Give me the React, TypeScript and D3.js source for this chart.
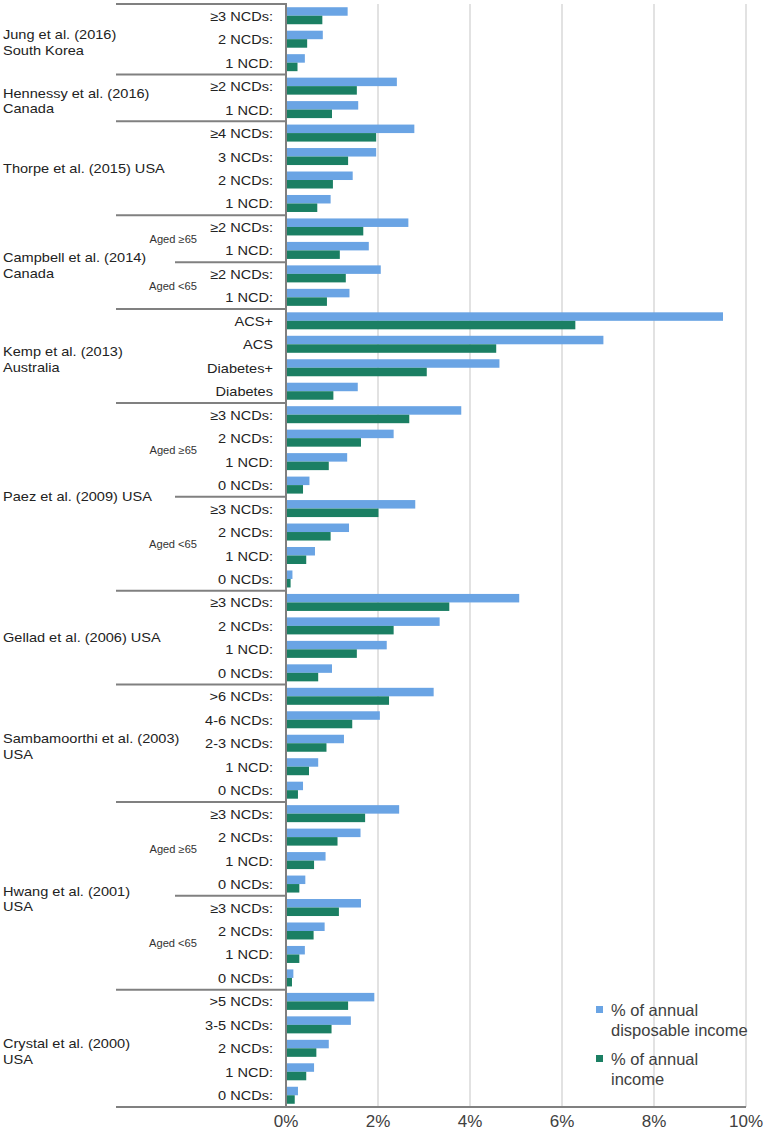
import * as d3 from "d3";

// row labels, top to bottom
const categories = [
  "≥3 NCDs:", "2 NCDs:", "1 NCD:",
  "≥2 NCDs:", "1 NCD:",
  "≥4 NCDs:", "3 NCDs:", "2 NCDs:", "1 NCD:",
  "≥2 NCDs:", "1 NCD:", "≥2 NCDs:", "1 NCD:",
  "ACS+", "ACS", "Diabetes+", "Diabetes",
  "≥3 NCDs:", "2 NCDs:", "1 NCD:", "0 NCDs:", "≥3 NCDs:", "2 NCDs:", "1 NCD:", "0 NCDs:",
  "≥3 NCDs:", "2 NCDs:", "1 NCD:", "0 NCDs:",
  ">6 NCDs:", "4-6 NCDs:", "2-3 NCDs:", "1 NCD:", "0 NCDs:",
  "≥3 NCDs:", "2 NCDs:", "1 NCD:", "0 NCDs:", "≥3 NCDs:", "2 NCDs:", "1 NCD:", "0 NCDs:",
  ">5 NCDs:", "3-5 NCDs:", "2 NCDs:", "1 NCD:", "0 NCDs:",
];

// % of annual disposable income
const disposable = [
  1.34, 0.8, 0.41,
  2.41, 1.57,
  2.79, 1.96, 1.45, 0.97,
  2.66, 1.8, 2.06, 1.38,
  9.5, 6.9, 4.64, 1.56,
  3.81, 2.34, 1.33, 0.51, 2.81, 1.37, 0.63, 0.14,
  5.07, 3.34, 2.19, 1.0,
  3.21, 2.04, 1.26, 0.7, 0.37,
  2.46, 1.62, 0.86, 0.42, 1.63, 0.84, 0.41, 0.16,
  1.92, 1.41, 0.93, 0.61, 0.26,
];

// % of annual income
const annual = [
  0.79, 0.46, 0.25,
  1.54, 1.0,
  1.96, 1.35, 1.02, 0.68,
  1.68, 1.17, 1.3, 0.89,
  6.29, 4.57, 3.06, 1.03,
  2.68, 1.63, 0.93, 0.37, 2.01, 0.97, 0.44, 0.1,
  3.55, 2.34, 1.54, 0.7,
  2.24, 1.44, 0.88, 0.5, 0.26,
  1.72, 1.12, 0.61, 0.29, 1.15, 0.6, 0.29, 0.13,
  1.35, 0.99, 0.66, 0.44, 0.19,
];

const studyLabels = [
  ["Jung et al. (2016)", "South Korea"],
  ["Hennessy et al. (2016)", "Canada"],
  ["Thorpe et al. (2015) USA"],
  ["Campbell et al. (2014)", "Canada"],
  ["Kemp et al. (2013)", "Australia"],
  ["Paez et al. (2009) USA"],
  ["Gellad et al. (2006) USA"],
  ["Sambamoorthi et al. (2003)", "USA"],
  ["Hwang et al. (2001)", "USA"],
  ["Crystal et al. (2000)", "USA"],
];
const studySizes = [3, 2, 4, 4, 4, 8, 4, 5, 8, 5];

// age sub-groups: first row index and number of rows
const ageLabels = ["Aged ≥65", "Aged <65", "Aged ≥65", "Aged <65", "Aged ≥65", "Aged <65"];
const ageStarts = [9, 11, 17, 21, 34, 38];
const ageSizes = [2, 2, 4, 4, 4, 4];

const ticks = [0, 2, 4, 6, 8, 10];
const seriesKeys = ["disposable", "annual"];
const seriesNames = [["% of annual", "disposable income"], ["% of annual", "income"]];
const colors = ["#6aa4e4", "#1b7f63"];

const W = 767;
const H = 1138;
const FONT = "'Liberation Sans', Arial, sans-serif";

export default function App() {
  const ids = categories.map((_, i) => i);
  const y = d3.scaleBand<number>().domain(ids).range([4, 1107]);
  const sub = d3
    .scaleBand<string>()
    .domain(seriesKeys)
    .range([0, y.bandwidth()])
    .paddingOuter(0.38);
  const x = d3.scaleLinear().domain([0, 10]).range([286, 746]);
  const bw = y.bandwidth();
  const rowY = (i: number) => (i >= categories.length ? 1107 : (y(i) as number));

  const starts = studySizes.map((_, i) => d3.sum(studySizes.slice(0, i)));

  const values = [disposable, annual];

  return (
    <div style={{ position: "absolute", left: 0, top: 0 }}>
      <svg width={W} height={H} style={{ display: "block", fontFamily: FONT }}>
        <rect width={W} height={H} fill="#fff" />
        {/* gridlines */}
        {ticks.slice(1).map((t) => (
          <line key={t} x1={x(t)} x2={x(t)} y1={4} y2={1107} stroke="#d9d9d9" strokeWidth={1.5} />
        ))}
        {/* bars */}
        {values.map((vals, s) =>
          vals.map((v, i) => (
            <rect
              key={s + "-" + i}
              x={x(0)}
              y={(y(i) as number) + (sub(seriesKeys[s]) as number)}
              width={x(v) - x(0)}
              height={sub.bandwidth()}
              fill={colors[s]}
            />
          ))
        )}
        {/* study separators */}
        {[...starts, categories.length].map((st, i) => (
          <line key={"sep" + i} x1={116} x2={i === starts.length ? 746 : 286} y1={rowY(st)} y2={rowY(st)} stroke="#808080" strokeWidth={2} />
        ))}
        {/* age separators */}
        {ageStarts.filter((_, i) => i % 2 === 1).map((st) => (
          <line key={"age" + st} x1={175} x2={286} y1={rowY(st)} y2={rowY(st)} stroke="#808080" strokeWidth={2} />
        ))}
        <line x1={286} x2={286} y1={3} y2={1108} stroke="#808080" strokeWidth={2} />
        {/* category labels */}
        {categories.map((c, i) => (
          <text
            key={"c" + i}
            transform={`translate(273,${(y(i) as number) + bw / 2 + 5}) scale(1.12,1)`}
            textAnchor="end"
            fontSize={13}
            fill="#222"
          >
            {c}
          </text>
        ))}
        {/* study labels */}
        {studyLabels.map((lines, i) => {
          const cy = (rowY(starts[i]) + rowY(starts[i] + studySizes[i])) / 2;
          const base = lines.length === 1 ? cy + 4.5 : cy;
          return lines.map((l, j) => (
            <text
              key={"s" + i + j}
              transform={`translate(3,${base + j * 15.5}) scale(1.12,1)`}
              fontSize={13}
              fill="#222"
            >
              {l}
            </text>
          ));
        })}
        {/* age labels */}
        {ageLabels.map((l, i) => {
          const cy = (rowY(ageStarts[i]) + rowY(ageStarts[i] + ageSizes[i])) / 2;
          return (
            <text
              key={"a" + i}
              transform={`translate(197,${cy + 4.5}) scale(1.05,1)`}
              textAnchor="end"
              fontSize={10.6}
              fill="#333"
            >
              {l}
            </text>
          );
        })}
        {/* x tick labels */}
        {ticks.map((t) => (
          <text key={"t" + t} x={x(t)} y={1127} textAnchor="middle" fontSize={17} fill="#404040">
            {t + "%"}
          </text>
        ))}
        {/* legend */}
        {seriesNames.map((lines, s) => {
          const top = 1016 + s * 49;
          return (
            <g key={"lg" + s}>
              <rect x={596} y={top - 10} width={7} height={7} fill={colors[s]} />
              {lines.map((l, j) => (
                <text key={j} x={611} y={top + j * 20} fontSize={16.5} fill="#404040">
                  {l}
                </text>
              ))}
            </g>
          );
        })}
      </svg>
    </div>
  );
}
